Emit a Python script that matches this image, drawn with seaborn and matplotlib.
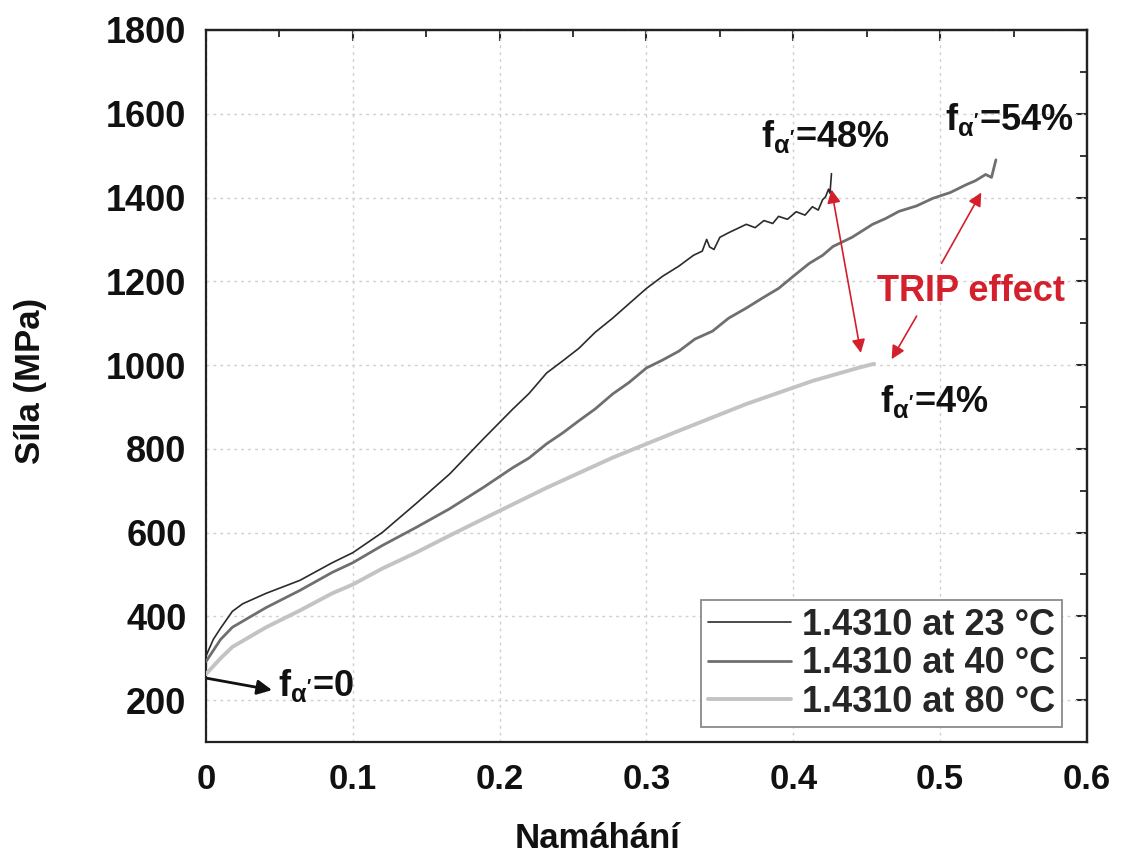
import numpy as np
import pandas as pd
import matplotlib
matplotlib.use("Agg")
import matplotlib.pyplot as plt
from matplotlib.ticker import MultipleLocator, FuncFormatter
import seaborn as sns

# ---------------- data ----------------
strain_23 = [0.0, 0.005, 0.010, 0.018, 0.025, 0.041, 0.064, 0.086, 0.100, 0.120, 0.143,
             0.166, 0.189, 0.209, 0.220, 0.232, 0.243, 0.254, 0.265, 0.277, 0.288, 0.300,
             0.311, 0.322, 0.332, 0.338, 0.341, 0.343, 0.346, 0.350, 0.356, 0.362, 0.368,
             0.374, 0.380, 0.386, 0.390, 0.396, 0.402, 0.408, 0.413, 0.417, 0.420, 0.422,
             0.424, 0.425, 0.426]
stress_23 = [305, 345, 372, 412, 430, 455, 486, 528, 552, 600, 669,
             740, 824, 895, 932, 981, 1010, 1040, 1078, 1112, 1146, 1183,
             1212, 1236, 1262, 1272, 1300, 1282, 1276, 1305, 1316, 1326, 1336,
             1328, 1345, 1338, 1355, 1348, 1366, 1358, 1378, 1370, 1395, 1402,
             1420, 1410, 1457]

strain_40 = [0.0, 0.010, 0.018, 0.041, 0.064, 0.086, 0.100, 0.120, 0.143, 0.166, 0.189,
             0.209, 0.220, 0.232, 0.243, 0.254, 0.265, 0.277, 0.288, 0.300, 0.311, 0.322,
             0.333, 0.345, 0.356, 0.368, 0.379, 0.390, 0.400, 0.411, 0.420, 0.427, 0.440,
             0.454, 0.463, 0.472, 0.484, 0.495, 0.507, 0.518, 0.524, 0.531, 0.535, 0.538]
stress_40 = [292, 345, 374, 421, 462, 505, 528, 569, 612, 657, 708,
             755, 778, 812, 838, 867, 895, 931, 958, 993, 1012, 1033,
             1062, 1081, 1112, 1136, 1160, 1183, 1212, 1243, 1262, 1283, 1305,
             1336, 1350, 1367, 1380, 1398, 1412, 1431, 1440, 1455, 1448, 1490]

strain_80 = [0.0, 0.010, 0.018, 0.041, 0.064, 0.086, 0.100, 0.120, 0.143, 0.166, 0.189,
             0.232, 0.277, 0.322, 0.368, 0.413, 0.445, 0.455]
stress_80 = [262, 300, 327, 374, 414, 455, 476, 514, 552, 593, 633,
             707, 779, 843, 907, 962, 994, 1003]

labels = ["1.4310 at 23 °C", "1.4310 at 40 °C", "1.4310 at 80 °C"]
colors = ["#2b2b2b", "#6f6f6f", "#c3c3c3"]
widths = [1.2, 2.0, 2.8]

x_ticks = [0, 0.1, 0.2, 0.3, 0.4, 0.5, 0.6]
y_ticks = [200, 400, 600, 800, 1000, 1200, 1400, 1600, 1800]

# ---------------- style ----------------
sns.set_style("white")
plt.rcParams["font.family"] = ["Liberation Sans", "DejaVu Sans"]
plt.rcParams["font.weight"] = "bold"
plt.rcParams["mathtext.fontset"] = "custom"
plt.rcParams["mathtext.rm"] = "Liberation Sans"
plt.rcParams["mathtext.bf"] = "Liberation Sans:bold"
plt.rcParams["mathtext.it"] = "Liberation Sans:italic"

fig = plt.figure(figsize=(11.23, 8.59), dpi=100)
ax = fig.add_axes([0.1834, 0.1362, 0.7845, 0.8289])

series = [(strain_23, stress_23), (strain_40, stress_40), (strain_80, stress_80)]
for (sx, sy), lab, col, lw in zip(series, labels, colors, widths):
    df = pd.DataFrame({"Namáhání": sx, "Síla": sy})
    sns.lineplot(data=df, x="Namáhání", y="Síla", ax=ax, color=col, linewidth=lw,
                 label=lab, sort=False, estimator=None, zorder=3)

ax.set_xlim(0, 0.6)
ax.set_ylim(100, 1800)
ax.set_xticks(x_ticks)
ax.set_yticks(y_ticks)
ax.xaxis.set_minor_locator(MultipleLocator(0.05))
ax.yaxis.set_minor_locator(MultipleLocator(100))
ax.xaxis.set_major_formatter(FuncFormatter(lambda v, p: "0" if abs(v) < 1e-9 else f"{v:.1f}"))

ax.grid(True, which="major", color="#cfcfcf", linestyle=(0, (2, 3)), linewidth=1.0, zorder=0)

for s in ax.spines.values():
    s.set_linewidth(1.6)
    s.set_color("#222222")

ax.tick_params(axis="x", which="major", direction="in", length=8, width=1.5,
               labelsize=25, pad=15, colors="#111111")
ax.tick_params(axis="y", which="major", direction="in", length=8, width=1.5,
               labelsize=26, pad=14, colors="#111111")
ax.tick_params(which="minor", direction="out", length=5, width=1.3, colors="#222222")
for lbl in ax.get_xticklabels() + ax.get_yticklabels():
    lbl.set_fontweight("bold")

# mirrored ticks on top/right (inward)
sec_x = ax.secondary_xaxis("top")
sec_x.set_xticks(x_ticks)
sec_x.xaxis.set_minor_locator(MultipleLocator(0.05))
sec_x.tick_params(which="major", direction="in", length=8, width=1.5, labeltop=False)
sec_x.tick_params(which="minor", direction="in", length=5, width=1.3)
sec_x.spines["top"].set_linewidth(1.6)
sec_y = ax.secondary_yaxis("right")
sec_y.set_yticks(y_ticks)
sec_y.yaxis.set_minor_locator(MultipleLocator(100))
sec_y.tick_params(which="major", direction="in", length=8, width=1.5, labelright=False)
sec_y.tick_params(which="minor", direction="in", length=5, width=1.3)
sec_y.spines["right"].set_linewidth(1.6)

ax.set_xlabel("Namáhání", fontsize=25, fontweight="bold", color="#111111")
ax.set_ylabel("Síla (MPa)", fontsize=25, fontweight="bold", color="#111111")
ax.xaxis.set_label_coords(0.444, -0.112)
ax.yaxis.set_label_coords(-0.180, 0.507)

# legend
leg = ax.legend(loc="lower right", bbox_to_anchor=(0.972, 0.021), borderaxespad=0,
                frameon=True, fancybox=False, framealpha=1, edgecolor="#8a8a8a",
                prop={"size": 26, "weight": "bold"}, handlelength=2.3,
                handletextpad=0.3, labelspacing=0.1, borderpad=0.2)
leg.get_frame().set_linewidth(1.3)

# annotations
red = "#d3202c"
fa = r"$\mathbf{f}_{\mathrm{\alpha}'}$"
txt_kw = dict(fontsize=26, fontweight="bold", color="#111111", ha="center", va="center")
ax.text(0.4218, 1545, fa + "=48%", **txt_kw)
ax.text(0.547, 1586, fa + "=54%", **txt_kw)
ax.text(0.496, 914, fa + "=4%", **txt_kw)
ax.text(0.049, 236, fa + "=0", fontsize=26, fontweight="bold",
        color="#111111", ha="left", va="center")
ax.text(0.521, 1176, "TRIP effect", fontsize=26, fontweight="bold", color=red,
        ha="center", va="center")

ax.annotate("", xy=(0.045, 224), xytext=(0.001, 252),
            arrowprops=dict(arrowstyle="-|>", color="#111111", lw=2.0,
                            mutation_scale=22, shrinkA=0, shrinkB=0), zorder=5)
ax.annotate("", xy=(0.446, 1029), xytext=(0.426, 1419),
            arrowprops=dict(arrowstyle="<|-|>", color=red, lw=1.2,
                            mutation_scale=20, shrinkA=0, shrinkB=0), zorder=5)
ax.annotate("", xy=(0.528, 1412), xytext=(0.501, 1243),
            arrowprops=dict(arrowstyle="-|>", color=red, lw=1.2,
                            mutation_scale=20, shrinkA=0, shrinkB=0), zorder=5)
ax.annotate("", xy=(0.467, 1014), xytext=(0.484, 1117),
            arrowprops=dict(arrowstyle="-|>", color=red, lw=1.2,
                            mutation_scale=20, shrinkA=0, shrinkB=0), zorder=5)

fig.savefig("out.png", dpi=100)
